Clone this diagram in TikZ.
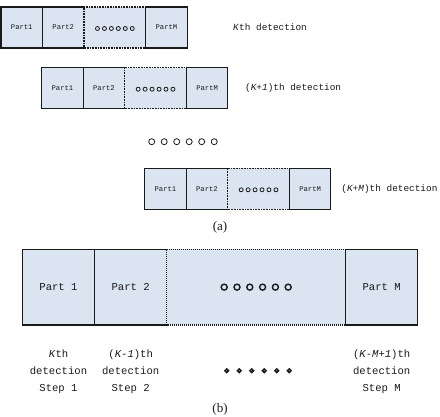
\documentclass[tikz,border=0pt]{standalone}
\usepackage{fontspec}
\setmainfont{Liberation Serif}
\setmonofont{Liberation Mono}
\definecolor{cellfill}{HTML}{DBE5F1}
\definecolor{ink}{HTML}{1A1A1A}
\tikzset{
  cell/.style={fill=cellfill, inner sep=0pt, outer sep=0pt, anchor=north west, text=ink,
    font=\ttfamily\fontsize{7.2}{8}\selectfont},
  bigcell/.style={cell, font=\ttfamily\fontsize{10.6}{12}\selectfont},
  solidedge/.style={draw=ink, line width=1.1pt},
  dotedge/.style={draw=ink, line width=1.1pt, dash pattern=on 0.8pt off 0.8pt},
  bigsolid/.style={draw=ink, line width=1.5pt},
  bigdot/.style={draw=ink, line width=1.5pt, dash pattern=on 1pt off 1pt},
  ring/.style={draw=ink, line width=0.8pt},
  thinring/.style={draw=ink, line width=0.8pt},
  bigring/.style={draw=ink, line width=1.4pt},
  dotring/.style={draw=ink, line width=1.5pt},
  rowlabel/.style={anchor=west, text=ink, font=\ttfamily\fontsize{9.4}{11}\selectfont, inner sep=0pt},
  steplabel/.style={anchor=north, align=center, text=ink,
    font=\ttfamily\fontsize{10.6}{16.7}\selectfont, inner sep=0pt},
  caption/.style={text=ink, font=\rmfamily\fontsize{13}{15}\selectfont, inner sep=0pt}
}
\newcommand{\detrow}[3]{%
  \node[cell, minimum width=41.5pt, minimum height=41pt] (#1a) at (#2,#3) {Part1};
  \node[cell, minimum width=41.5pt, minimum height=41pt] (#1b) at (#1a.north east) {Part2};
  \node[cell, minimum width=61.7pt, minimum height=41pt] (#1c) at (#1b.north east) {};
  \node[cell, minimum width=41.5pt, minimum height=41pt] (#1d) at (#1c.north east) {PartM};
  \draw[solidedge] (#1a.north west) rectangle (#1a.south east);
  \draw[solidedge] (#1b.north west) -- (#1b.north east) (#1b.south west) -- (#1b.south east);
  \draw[dotedge] (#1c.north east) -- (#1c.north west) -- (#1c.south west) -- (#1c.south east);
  \draw[solidedge] (#1d.north west) rectangle (#1d.south east);
  \foreach \i in {-2.5,-1.5,...,2.5} \draw[ring] ([xshift=\i*6.95pt,yshift=-1pt]#1c.center) circle (2pt);
}
\begin{document}
\begin{tikzpicture}[x=1pt,y=-1pt]
\useasboundingbox (0,0) rectangle (440,416);
% (a)
\detrow{r}{1}{7}
\detrow{s}{41.7}{67.7}
\detrow{t}{144.7}{168.3}
\node[rowlabel] (l1) at (233,27.5) {\textit{K}th detection};
\node[rowlabel] (l2) at (245,88.5) {(\textit{K+1})th detection};
\node[rowlabel] (l3) at (341.2,189) {(\textit{K+M})th detection};
\foreach \i in {0,...,5} \draw[thinring] (151.7+\i*12.5,141.7) circle (3pt);
\node[caption] (capa) at (220,227) {(a)};
% (b)
\node[bigcell, minimum width=72.4pt, minimum height=75.7pt] (b1) at (22.3,249.3) {Part 1};
\node[bigcell, minimum width=72pt, minimum height=75.7pt] (b2) at (b1.north east) {Part 2};
\node[bigcell, minimum width=179pt, minimum height=75.7pt] (b3) at (b2.north east) {};
\node[bigcell, minimum width=72pt, minimum height=75.7pt] (b4) at (b3.north east) {Part M};
\draw[bigsolid] (b1.north west) rectangle (b1.south east);
\draw[bigsolid] (b2.north west) -- (b2.north east) (b2.south west) -- (b2.south east);
\draw[bigdot] (b3.north east) -- (b3.north west) -- (b3.south west) -- (b3.south east);
\draw[bigsolid] (b4.north west) rectangle (b4.south east);
\foreach \i in {-2.5,-1.5,...,2.5} \draw[bigring] ([xshift=\i*12.8pt]b3.center) circle (3pt);
\node[steplabel] (st1) at ([yshift=-25pt]b1.south) {\textit{K}th\\detection\\Step 1};
\node[steplabel] (st2) at ([yshift=-25pt]b2.south) {(\textit{K-1})th\\detection\\Step 2};
\node[steplabel] (st3) at ([yshift=-25pt]b4.south) {(\textit{K-M+1})th\\detection\\Step M};
\foreach \i in {0,...,5} \draw[dotring] (226.7+\i*12.5,370.7) circle (1.8pt);
\node[caption] (capb) at (220,409) {(b)};
\end{tikzpicture}
\end{document}
